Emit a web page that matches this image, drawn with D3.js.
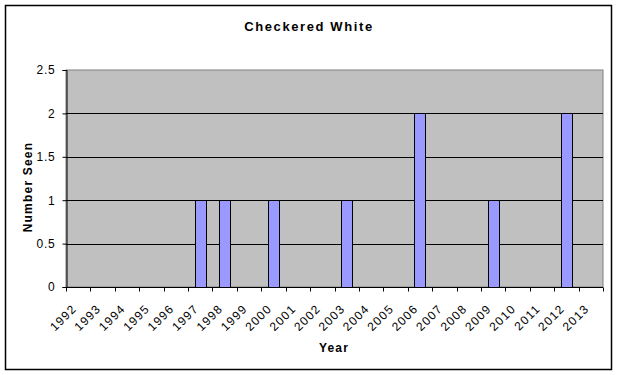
<!DOCTYPE html>
<html>
<head>
<meta charset="utf-8">
<script src="https://cdn.jsdelivr.net/npm/d3@7"></script>
<style>
  body { margin: 0; background: #fff; }
  svg { display: block; font-family: Arial, "Liberation Sans", sans-serif; }
</style>
</head>
<body>
<div id="chart"></div>
<script>
// Checkered White sightings per year
const years = ['1992', '1993', '1994', '1995', '1996', '1997', '1998', '1999', '2000', '2001', '2002',
               '2003', '2004', '2005', '2006', '2007', '2008', '2009', '2010', '2011', '2012', '2013'];
const counts = [0, 0, 0, 0, 0, 1, 1, 0, 1, 0, 0, 1, 0, 0, 2, 0, 0, 1, 0, 0, 2, 0];
const yTicks = [0, 0.5, 1, 1.5, 2, 2.5];

const width = 618, height = 375;
const margin = { top: 70, right: 15, bottom: 88, left: 66 };

const svg = d3.select('#chart').append('svg')
    .attr('width', width)
    .attr('height', height);

// outer chart border
svg.append('rect')
    .attr('x', 5.5).attr('y', 5.5)
    .attr('width', 606).attr('height', 364)
    .attr('fill', '#fff')
    .attr('stroke', '#000')
    .attr('stroke-width', 1.5);

const x = d3.scaleBand()
    .domain(years)
    .range([margin.left, width - margin.right])
    .paddingInner(0).paddingOuter(0);

const y = d3.scaleLinear()
    .domain([0, 2.5])
    .range([height - margin.bottom, margin.top]);

const plotW = x.range()[1] - x.range()[0];
const plotH = y(0) - y(2.5);

// plot background
svg.append('rect')
    .attr('x', margin.left).attr('y', margin.top)
    .attr('width', plotW).attr('height', plotH)
    .attr('fill', '#c0c0c0')
    .attr('stroke', '#808080')
    .attr('stroke-width', 1);

// gridlines
svg.append('g')
    .selectAll('line')
    .data(yTicks.filter(d => d > 0 && d < 2.5))
    .join('line')
    .attr('x1', margin.left).attr('x2', margin.left + plotW)
    .attr('y1', d => Math.round(y(d)) + 0.5).attr('y2', d => Math.round(y(d)) + 0.5)
    .attr('stroke', '#000')
    .attr('stroke-width', 1);

// bars
const barW = x.bandwidth() * 0.45;
svg.append('g')
    .selectAll('rect')
    .data(years.map((yr, i) => ({ yr, v: counts[i] })).filter(d => d.v > 0))
    .join('rect')
    .attr('x', d => Math.round(x(d.yr) + (x.bandwidth() - barW) / 2) + 0.5)
    .attr('y', d => Math.round(y(d.v)) + 0.5)
    .attr('width', Math.round(barW))
    .attr('height', d => Math.round(y(0)) - Math.round(y(d.v)))
    .attr('fill', '#9999ff')
    .attr('stroke', '#000')
    .attr('stroke-width', 1);

// y axis
const yAxis = svg.append('g')
    .attr('transform', `translate(${margin.left + 0.5},0)`)
    .call(d3.axisLeft(y).tickValues(yTicks).tickSize(4).tickPadding(7)
        .tickFormat(d3.format('~g')));
yAxis.select('.domain').attr('stroke', '#000');
yAxis.selectAll('.tick line').attr('stroke', '#000');
yAxis.selectAll('text')
    .attr('font-size', 12)
    .attr('letter-spacing', 0.8)
    .attr('font-family', 'Arial, "Liberation Sans", sans-serif')
    .attr('fill', '#000');

// x axis: ticks on category boundaries
const xAxisG = svg.append('g')
    .attr('transform', `translate(0,${Math.round(y(0)) + 0.5})`);
xAxisG.append('line')
    .attr('x1', margin.left).attr('x2', margin.left + plotW)
    .attr('stroke', '#000');
xAxisG.selectAll('line.tk')
    .data(years.concat(['end']))
    .join('line')
    .attr('class', 'tk')
    .attr('x1', (d, i) => Math.round(margin.left + i * x.step()) + 0.5)
    .attr('x2', (d, i) => Math.round(margin.left + i * x.step()) + 0.5)
    .attr('y1', 0).attr('y2', 4)
    .attr('stroke', '#000');
xAxisG.selectAll('text')
    .data(years)
    .join('text')
    .attr('transform', d => `translate(${x(d) + x.bandwidth() / 2 - 1},22) rotate(-45)`)
    .attr('text-anchor', 'end')
    .attr('font-size', 12)
    .attr('letter-spacing', 1.2)
    .attr('fill', '#000')
    .text(d => d);

// title and axis labels
svg.append('text')
    .attr('x', 309).attr('y', 31)
    .attr('text-anchor', 'middle')
    .attr('font-size', 13)
    .attr('font-weight', 'bold')
    .attr('letter-spacing', 1.6)
    .text('Checkered White');

svg.append('text')
    .attr('x', 334).attr('y', 352)
    .attr('text-anchor', 'middle')
    .attr('font-size', 12)
    .attr('font-weight', 'bold')
    .attr('letter-spacing', 1.2)
    .text('Year');

svg.append('text')
    .attr('transform', 'translate(32,187) rotate(-90)')
    .attr('text-anchor', 'middle')
    .attr('font-size', 12)
    .attr('font-weight', 'bold')
    .attr('letter-spacing', 1.2)
    .text('Number Seen');
</script>
</body>
</html>
